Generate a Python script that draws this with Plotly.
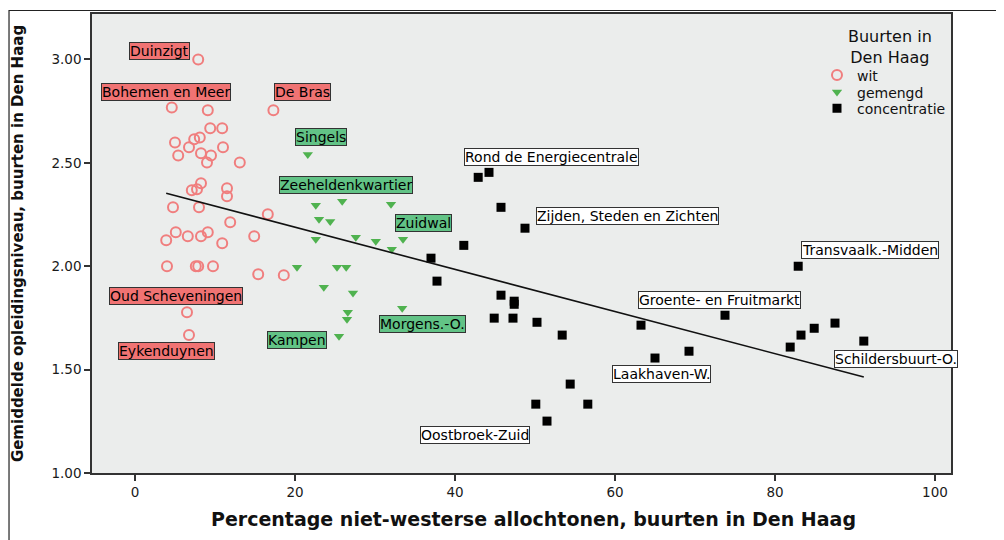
import plotly.graph_objects as go

# ---- data ----
wit_x = [7.9, 4.6, 9.1, 17.3, 9.4, 10.9, 5.0, 7.4, 8.1, 6.75, 11.0, 5.4, 8.25, 9.5, 9.0, 13.1,
         8.25, 7.1, 7.75, 11.5, 11.5, 4.75, 8.0, 16.6, 11.9, 5.1, 9.1, 3.9, 6.6, 8.25, 10.9, 14.9,
         4.0, 7.6, 7.9, 9.75, 15.4, 18.6, 6.5, 6.75]
wit_y = [3.00, 2.768, 2.754, 2.754, 2.667, 2.667, 2.599, 2.614, 2.623, 2.575, 2.575, 2.536, 2.546,
         2.536, 2.502, 2.502, 2.401, 2.367, 2.372, 2.377, 2.338, 2.285, 2.285, 2.251, 2.213, 2.164,
         2.164, 2.126, 2.145, 2.145, 2.111, 2.145, 2.000, 2.000, 2.000, 2.000, 1.961, 1.957, 1.778,
         1.667]

gemengd_x = [21.6, 22.6, 25.9, 32.0, 23.0, 24.4, 22.6, 27.6, 30.1, 33.5, 32.1, 20.25, 25.25, 26.4,
             23.6, 27.25, 33.4, 26.6, 26.5, 25.5]
gemengd_y = [2.541, 2.295, 2.314, 2.300, 2.227, 2.217, 2.130, 2.140, 2.121, 2.130, 2.082, 1.995,
             1.995, 1.995, 1.899, 1.870, 1.797, 1.778, 1.744, 1.662]

conc_x = [37.0, 37.75, 42.9, 44.25, 45.75, 48.75, 41.1, 45.75, 47.4, 47.4, 44.9, 47.25, 50.25, 53.4,
          54.4, 50.1, 56.6, 51.5, 82.9, 73.75, 63.25, 69.25, 65.0, 81.9, 83.25, 84.9, 87.5, 91.1]
conc_y = [2.039, 1.928, 2.430, 2.454, 2.285, 2.184, 2.101, 1.860, 1.831, 1.816, 1.749, 1.749, 1.729,
          1.667, 1.430, 1.333, 1.333, 1.251, 2.000, 1.763, 1.715, 1.589, 1.556, 1.609, 1.667, 1.700,
          1.725, 1.638]

fit_x = [3.9, 91.1]
fit_y = [2.353, 1.464]

x_ticks = [0, 20, 40, 60, 80, 100]
y_ticks = [1.0, 1.5, 2.0, 2.5, 3.0]
y_tick_labels = ["1.00", "1.50", "2.00", "2.50", "3.00"]

label_texts = ["Duinzigt", "Bohemen en Meer", "De Bras", "Oud Scheveningen", "Eykenduynen",
               "Singels", "Zeeheldenkwartier", "Zuidwal", "Morgens.-O.", "Kampen",
               "Rond de Energiecentrale", "Zijden, Steden en Zichten", "Transvaalk.-Midden",
               "Groente- en Fruitmarkt", "Laakhaven-W.", "Schildersbuurt-O.", "Oostbroek-Zuid"]
label_groups = ["wit"] * 5 + ["gemengd"] * 5 + ["concentratie"] * 7

legend_title = "Buurten in<br>Den Haag"
x_title = "Percentage niet-westerse allochtonen, buurten in Den Haag"
y_title = "Gemiddelde opleidingsniveau, buurten in Den Haag"

# ---- layout helpers (positions / styles) ----
label_pos = [(3.0, 3.039), (3.9, 2.845), (20.9, 2.841), (5.1, 1.855), (3.9, 1.589),
             (23.25, 2.623), (26.4, 2.391), (36.0, 2.208), (35.9, 1.720), (20.25, 1.643),
             (52.1, 2.527), (61.6, 2.242), (91.9, 2.077), (73.1, 1.836), (65.75, 1.478),
             (95.1, 1.551), (42.5, 1.184)]
label_fill = {"wit": "#F07373", "gemengd": "#62C386", "concentratie": "#FFFFFF"}

FONT = "DejaVu Sans, Arial, sans-serif"

fig = go.Figure()
fig.add_trace(go.Scatter(x=wit_x, y=wit_y, mode="markers", name="wit", legend="legend",
                         marker=dict(symbol="circle-open", size=10, color="#F07E7E",
                                     line=dict(width=2, color="#F07E7E"))))
fig.add_trace(go.Scatter(x=gemengd_x, y=gemengd_y, mode="markers", name="gemengd", legend="legend2",
                         marker=dict(symbol="triangle-down", size=9, color="#4FB24F",
                                     line=dict(width=0))))
fig.add_trace(go.Scatter(x=conc_x, y=conc_y, mode="markers", name="concentratie", legend="legend3",
                         marker=dict(symbol="square", size=9, color="#000000",
                                     line=dict(width=0))))
fig.add_trace(go.Scatter(x=fit_x, y=fit_y, mode="lines", showlegend=False,
                         line=dict(color="#111111", width=1.6)))

for txt, grp, (lx, ly) in zip(label_texts, label_groups, label_pos):
    fig.add_annotation(x=lx, y=ly, xref="x", yref="y", text=txt, showarrow=False,
                       font=dict(family=FONT, size=14, color="#000000"),
                       bgcolor=label_fill[grp], bordercolor="#333333", borderwidth=1,
                       borderpad=0, xanchor="center", yanchor="middle")

# legend title
fig.add_annotation(x=0.929, y=0.929, xref="paper", yref="paper", text=legend_title,
                   showarrow=False, xanchor="center", yanchor="middle", align="center",
                   font=dict(family=FONT, size=16, color="#111111"))

# x axis title (slightly right of plot centre, as in the reference)
fig.add_annotation(x=0.5134, y=-0.0995, xref="paper", yref="paper", text="<b>" + x_title + "</b>",
                   showarrow=False, xanchor="center", yanchor="middle",
                   font=dict(family=FONT, size=19, color="#111111"))

# outer frame
fig.add_shape(type="rect", xref="paper", yref="paper",
              x0=-0.0966, x1=1.0536, y0=-0.16, y1=1.0076,
              line=dict(color="#222222", width=1.2), fillcolor="rgba(0,0,0,0)", layer="below")

leg_common = dict(x=0.844, xanchor="left", yanchor="middle", bgcolor="rgba(0,0,0,0)",
                  font=dict(family=FONT, size=14, color="#111111"), itemsizing="trace")

fig.update_layout(
    width=996, height=532,
    margin=dict(l=84, r=53, t=5.5, b=67, autoexpand=False),
    paper_bgcolor="#FFFFFF",
    plot_bgcolor="#EBEDEC",
    font=dict(family=FONT, color="#222222"),
    showlegend=True,
    legend=dict(y=0.866, **leg_common),
    legend2=dict(y=0.829, **leg_common),
    legend3=dict(y=0.794, **leg_common),
)

fig.update_xaxes(range=[-5.375, 102.0], tickmode="array", tickvals=x_ticks,
                 ticks="outside", ticklen=6, tickwidth=1.5, tickcolor="#333333",
                 showline=True, linecolor="#333333", linewidth=1.5, mirror=True,
                 showgrid=False, zeroline=False,
                 tickfont=dict(family=FONT, size=13.5, color="#1a1a1a"))
fig.update_yaxes(range=[1.0, 3.22], tickmode="array", tickvals=y_ticks, ticktext=y_tick_labels,
                 ticks="outside", ticklen=6, tickwidth=1.5, tickcolor="#333333",
                 showline=True, linecolor="#333333", linewidth=1.5, mirror=True,
                 showgrid=False, zeroline=False,
                 tickfont=dict(family=FONT, size=13.5, color="#1a1a1a"),
                 title=dict(text="<b>" + y_title + "</b>",
                            font=dict(family=FONT, size=15, color="#111111"), standoff=24))

fig.write_html("out.html")
